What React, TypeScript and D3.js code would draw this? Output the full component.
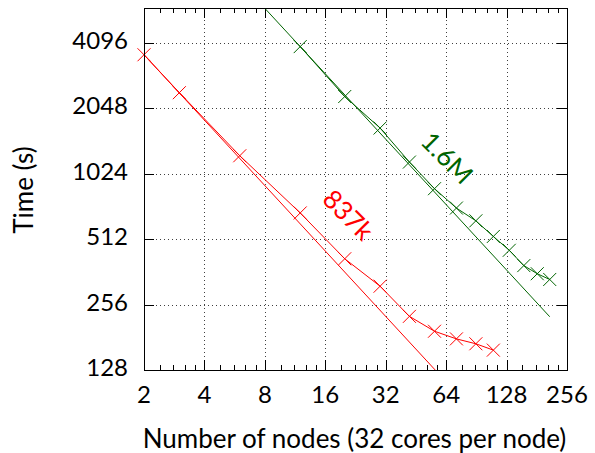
import React, { useEffect, useRef } from 'react';
import * as d3 from 'd3';

// nodes / time (s)
const nodes837k = [2, 3, 6, 12, 20, 30, 42, 56, 72, 90, 110];
const time837k = [3613, 2417, 1239, 676, 416, 311, 226, 193, 178, 169, 158];

const nodes16M = [12, 20, 30, 42, 56, 72, 90, 110, 132, 156, 182, 210];
const time16M = [3939, 2321, 1662, 1159, 874, 712, 622, 527, 455, 387, 355, 334];

const xTicks = [2, 4, 8, 16, 32, 64, 128, 256];
const yTicks = [128, 256, 512, 1024, 2048, 4096];

const FONT = 'Lato, "DejaVu Sans", sans-serif';

const App: React.FC = () => {
  const svgRef = useRef<SVGSVGElement>(null);

  useEffect(() => {
    if (!svgRef.current) return;
    const W = 595, H = 453;
    const margin = { top: 8, right: 28, bottom: 83, left: 144 };
    const width = W - margin.left - margin.right;
    const height = H - margin.top - margin.bottom;

    d3.select(svgRef.current).selectAll('*').remove();
    const svg = d3.select(svgRef.current)
      .attr('width', W)
      .attr('height', H)
      .append('g')
      .attr('transform', `translate(${margin.left},${margin.top})`);

    const x = d3.scaleLog().base(2).domain([2, 256]).range([0, width]);
    const y = d3.scaleLog().base(2).domain([128, 5930]).range([height, 0]);

    svg.append('defs').append('clipPath').attr('id', 'plot-clip')
      .append('rect').attr('width', width).attr('height', height);

    // Grid
    const grid = svg.append('g')
      .attr('stroke', '#000')
      .attr('stroke-width', 1)
      .attr('stroke-dasharray', '1,3')
      .attr('opacity', 0.75);
    xTicks.slice(1, -1).forEach(t => {
      grid.append('line')
        .attr('x1', Math.round(x(t)) + 0.5).attr('x2', Math.round(x(t)) + 0.5)
        .attr('y1', 0).attr('y2', height);
    });
    yTicks.slice(1).forEach(t => {
      grid.append('line')
        .attr('x1', 0).attr('x2', width)
        .attr('y1', Math.round(y(t)) + 0.5).attr('y2', Math.round(y(t)) + 0.5);
    });

    // Ticks
    const ticks = svg.append('g').attr('stroke', '#000').attr('stroke-width', 1);
    const minor: number[] = [];
    xTicks.slice(0, -1).forEach(b => {
      for (let k = 1; k < 5; k++) minor.push(b * (1 + k / 5));
    });
    minor.forEach(t => {
      const px = Math.round(x(t)) + 0.5;
      ticks.append('line').attr('x1', px).attr('x2', px).attr('y1', height).attr('y2', height - 5);
      ticks.append('line').attr('x1', px).attr('x2', px).attr('y1', 0).attr('y2', 5);
    });
    xTicks.forEach(t => {
      const px = Math.round(x(t)) + 0.5;
      ticks.append('line').attr('x1', px).attr('x2', px).attr('y1', height).attr('y2', height - 10);
      ticks.append('line').attr('x1', px).attr('x2', px).attr('y1', 0).attr('y2', 10);
    });
    yTicks.forEach(t => {
      const py = Math.round(y(t)) + 0.5;
      ticks.append('line').attr('x1', 0).attr('x2', 10).attr('y1', py).attr('y2', py);
      ticks.append('line').attr('x1', width).attr('x2', width - 10).attr('y1', py).attr('y2', py);
    });

    // Tick labels
    svg.append('g').selectAll('text').data(xTicks).enter().append('text')
      .attr('x', d => x(d))
      .attr('y', height + 33)
      .attr('text-anchor', 'middle')
      .style('font-family', FONT).style('font-size', '24px')
      .text(d => d);
    svg.append('g').selectAll('text').data(yTicks).enter().append('text')
      .attr('x', -16)
      .attr('y', d => y(d) + 6)
      .attr('text-anchor', 'end')
      .style('font-family', FONT).style('font-size', '24px')
      .text(d => d);

    const series = [
      { xs: nodes837k, ts: time837k, color: '#ff0000', idealEnd: 256 },
      { xs: nodes16M, ts: time16M, color: '#006400', idealEnd: 210 }
    ];

    const line = d3.line<[number, number]>().x(d => x(d[0])).y(d => y(d[1]));
    const plot = svg.append('g').attr('clip-path', 'url(#plot-clip)');

    series.forEach(s => {
      const pts: [number, number][] = s.xs.map((v, i) => [v, s.ts[i]]);
      const k = s.ts[0] * s.xs[0];
      // ideal linear-scaling line through first point
      const ideal: [number, number][] = [[2, k / 2], [s.idealEnd, k / s.idealEnd]];
      plot.append('path').attr('d', line(ideal)).attr('fill', 'none')
        .attr('stroke', s.color).attr('stroke-width', 1);
      plot.append('path').attr('d', line(pts)).attr('fill', 'none')
        .attr('stroke', s.color).attr('stroke-width', 1);
      svg.append('g').selectAll('path').data(pts).enter().append('path')
        .attr('transform', d => `translate(${x(d[0])},${y(d[1])})`)
        .attr('d', 'M-6.5,-6.5L6.5,6.5M-6.5,6.5L6.5,-6.5')
        .attr('stroke', s.color).attr('stroke-width', 1).attr('fill', 'none');
    });

    // Border
    svg.append('rect').attr('x', 0.5).attr('y', 0.5)
      .attr('width', width).attr('height', height)
      .attr('fill', 'none').attr('stroke', '#000').attr('stroke-width', 1);

    // Series labels
    svg.append('text')
      .attr('transform', `translate(${348 - margin.left},${215 - margin.top}) rotate(45)`)
      .attr('text-anchor', 'middle').attr('dy', '0.35em')
      .attr('fill', '#ff0000')
      .style('font-family', FONT).style('font-size', '26px')
      .text('837k');
    svg.append('text')
      .attr('transform', `translate(${447 - margin.left},${158 - margin.top}) rotate(45)`)
      .attr('text-anchor', 'middle').attr('dy', '0.35em')
      .attr('fill', '#006400')
      .style('font-family', FONT).style('font-size', '26px')
      .text('1.6M');

    // Axis labels
    svg.append('text')
      .attr('x', width / 2 - 1)
      .attr('y', height + 78)
      .attr('text-anchor', 'middle')
      .style('font-family', FONT).style('font-size', '26px')
      .text('Number of nodes (32 cores per node)');
    svg.append('text')
      .attr('transform', `translate(${-111},${height / 2 + 1}) rotate(-90)`)
      .attr('text-anchor', 'middle')
      .style('font-family', FONT).style('font-size', '26px')
      .text('Time (s)');
  }, []);

  return (
    <svg ref={svgRef} style={{ position: 'absolute', left: 0, top: 0, background: '#fff' }}></svg>
  );
};

export default App;
